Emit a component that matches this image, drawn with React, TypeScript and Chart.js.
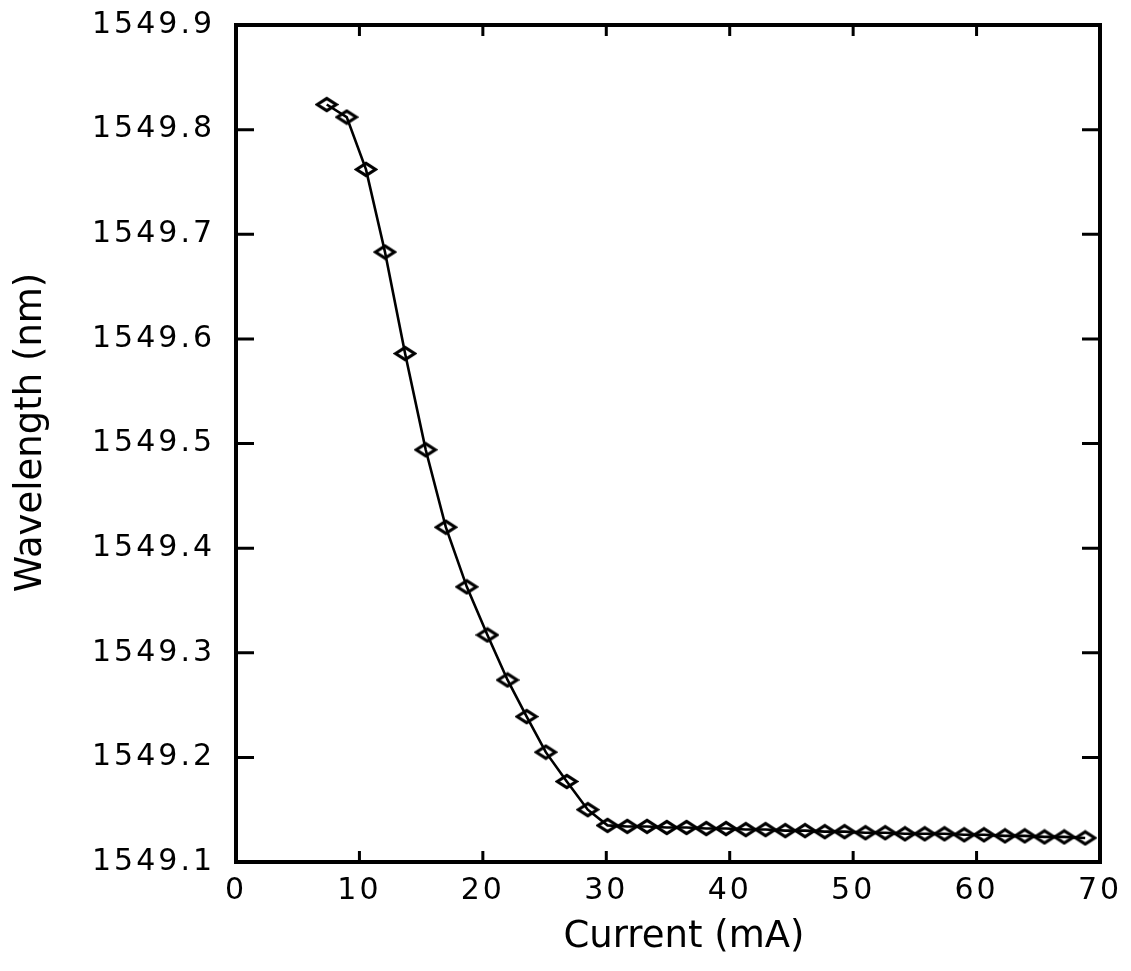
import React, { useEffect, useRef } from "react";
import { Chart, registerables } from "chart.js";

Chart.register(...registerables);

const currentMA = [
  7.35, 8.97, 10.53, 12.07, 13.7, 15.37, 17.0, 18.7, 20.37, 22.0, 23.55, 25.1, 26.8, 28.5,
  30.1, 31.7, 33.3, 34.9, 36.5, 38.1, 39.7, 41.3, 42.9, 44.5, 46.1, 47.7, 49.3, 51.0, 52.6,
  54.2, 55.8, 57.4, 59.0, 60.6, 62.3, 63.9, 65.5, 67.1, 68.8,
];
const wavelengthNm = [
  1549.824, 1549.812, 1549.762, 1549.683, 1549.586, 1549.494, 1549.42, 1549.363, 1549.317,
  1549.274, 1549.239, 1549.205, 1549.177, 1549.15, 1549.135, 1549.134, 1549.134, 1549.133,
  1549.133, 1549.132, 1549.132, 1549.131, 1549.131, 1549.13, 1549.13, 1549.129, 1549.129,
  1549.128, 1549.128, 1549.127, 1549.127, 1549.127, 1549.126, 1549.126, 1549.125, 1549.125,
  1549.124, 1549.124, 1549.123,
];
const xTicks = [0, 10, 20, 30, 40, 50, 60, 70];
const yTicks = [1549.1, 1549.2, 1549.3, 1549.4, 1549.5, 1549.6, 1549.7, 1549.8, 1549.9];
const xTitle = "Current (mA)";
const yTitle = "Wavelength (nm)";

const FONT = "'DejaVu Sans', sans-serif";

function makeDiamond(): HTMLCanvasElement {
  const c = document.createElement("canvas");
  c.width = 24;
  c.height = 17;
  const g = c.getContext("2d")!;
  g.strokeStyle = "#000";
  g.lineWidth = 3.2;
  g.lineJoin = "miter";
  g.beginPath();
  g.moveTo(2.5, 8.5);
  g.lineTo(12, 2.5);
  g.lineTo(21.5, 8.5);
  g.lineTo(12, 14.5);
  g.closePath();
  g.stroke();
  return c;
}

const spacing = {
  id: "spacing",
  beforeUpdate(chart: any) {
    chart.ctx.letterSpacing = "3px";
  },
  beforeDraw(chart: any) {
    chart.ctx.letterSpacing = "3px";
  },
};

const frameTicks = {
  id: "frameTicks",
  afterDraw(chart: any) {
    const { ctx, chartArea: a, scales } = chart;
    ctx.save();
    ctx.strokeStyle = "#000";
    ctx.lineCap = "butt";
    ctx.lineWidth = 3;
    xTicks.forEach((v) => {
      const px = scales.x.getPixelForValue(v);
      ctx.beginPath();
      ctx.moveTo(px, a.bottom);
      ctx.lineTo(px, a.bottom - 11);
      ctx.moveTo(px, a.top);
      ctx.lineTo(px, a.top + 11);
      ctx.stroke();
    });
    yTicks.forEach((v) => {
      const py = scales.y.getPixelForValue(v);
      ctx.beginPath();
      ctx.moveTo(a.left, py);
      ctx.lineTo(a.left + 18, py);
      ctx.moveTo(a.right, py);
      ctx.lineTo(a.right - 18, py);
      ctx.stroke();
    });
    ctx.lineWidth = 4;
    ctx.strokeRect(a.left, a.top, a.right - a.left, a.bottom - a.top);

    // axis titles
    ctx.letterSpacing = "0px";
    ctx.fillStyle = "#000";
    ctx.font = `37px ${FONT}`;
    ctx.textAlign = "center";
    ctx.textBaseline = "middle";
    ctx.fillText(xTitle, (a.left + a.right) / 2 + 16, a.bottom + 75);
    ctx.translate(a.left - 205, (a.top + a.bottom) / 2 - 11);
    ctx.rotate(-Math.PI / 2);
    ctx.fillText(yTitle, 0, 0);
    ctx.restore();
  },
};

export default function App() {
  const ref = useRef<HTMLCanvasElement | null>(null);
  useEffect(() => {
    if (!ref.current) return;
    const diamond = makeDiamond();
    const chart = new Chart(ref.current, {
      type: "line",
      data: {
        datasets: [
          {
            data: currentMA.map((x, i) => ({ x, y: wavelengthNm[i] })),
            borderColor: "#000",
            borderWidth: 2.6,
            tension: 0,
            pointStyle: diamond as any,
            pointRadius: 9,
            fill: false,
          },
        ],
      },
      options: {
        animation: false,
        responsive: false,
        maintainAspectRatio: false,
        layout: { padding: { top: 25, right: 31, left: 0, bottom: 0 } },
        plugins: { legend: { display: false }, tooltip: { enabled: false } },
        scales: {
          x: {
            type: "linear",
            min: 0,
            max: 70,
            afterBuildTicks: (s: any) => {
              s.ticks = xTicks.map((v) => ({ value: v }));
            },
            afterFit: (s: any) => {
              s.height = 109;
              s.paddingLeft = 0;
              s.paddingRight = 0;
            },
            grid: { display: false, drawTicks: false },
            border: { display: false },
            ticks: {
              color: "#000",
              font: { family: FONT, size: 30 },
              padding: 11,
              maxRotation: 0,
            },
          },
          y: {
            type: "linear",
            min: 1549.1,
            max: 1549.9,
            afterBuildTicks: (s: any) => {
              s.ticks = yTicks.map((v) => ({ value: v }));
            },
            afterFit: (s: any) => {
              s.width = 236;
              s.paddingTop = 0;
              s.paddingBottom = 0;
            },
            grid: { display: false, drawTicks: false },
            border: { display: false },
            ticks: {
              color: "#000",
              font: { family: FONT, size: 30 },
              padding: 21,
              callback: (v: any) => Number(v).toFixed(1),
            },
          },
        },
      },
      plugins: [spacing, frameTicks],
    });
    return () => chart.destroy();
  }, []);
  return (
    <div style={{ position: "fixed", left: 0, top: 0, width: 1131, height: 971, background: "#fff" }}>
      <canvas ref={ref} width={1131} height={971} />
    </div>
  );
}
